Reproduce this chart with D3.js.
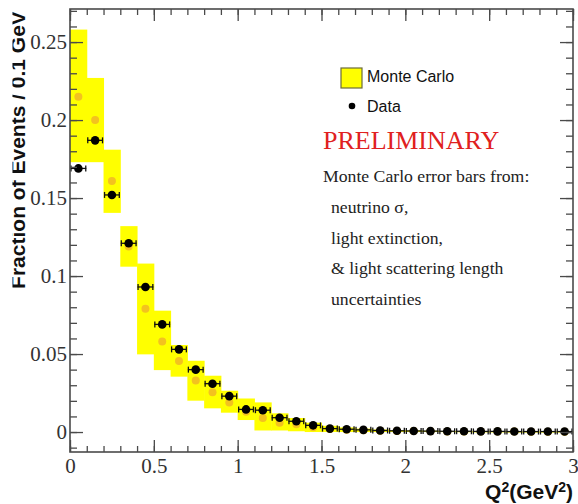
<!DOCTYPE html>
<html>
<head>
<meta charset="utf-8">
<script src="https://cdn.jsdelivr.net/npm/d3@7"></script>
<style>
  body { margin: 0; background: #fff; }
  svg { display: block; }
</style>
</head>
<body>
<svg id="chart" width="578" height="504"></svg>
<script>
// bin centres in Q^2 (GeV^2), bins are 0.1 wide
const binCenters = [0.05, 0.15, 0.25, 0.35, 0.45, 0.55, 0.65, 0.75, 0.85, 0.95,
  1.05, 1.15, 1.25, 1.35, 1.45, 1.55, 1.65, 1.75, 1.85, 1.95,
  2.05, 2.15, 2.25, 2.35, 2.45, 2.55, 2.65, 2.75, 2.85, 2.95];
const binHalfWidth = 0.05;

// data points
const dataValues = [0.169, 0.187, 0.152, 0.121, 0.093, 0.069, 0.053, 0.040, 0.031, 0.023,
  0.0145, 0.014, 0.0092, 0.0069, 0.0043, 0.0022, 0.0018, 0.0014, 0.0010, 0.0008,
  0.0007, 0.0006, 0.0005, 0.0005, 0.0004, 0.0004, 0.0003, 0.0003, 0.0003, 0.0003];

// Monte Carlo central values and error band
const mcValues = [0.215, 0.200, 0.161, 0.119, 0.079, 0.058, 0.0455, 0.033, 0.0255, 0.019,
  0.013, 0.009, 0.006, 0.005, 0.003, 0.002, 0.0015, 0.0012, 0.0009, 0.0007,
  0.0006, 0.0005, 0.0004, 0.0004, 0.0003, 0.0003, 0.0003, 0.0002, 0.0002, 0.0002];
const mcLow = [0.173, 0.173, 0.1405, 0.106, 0.0498, 0.0397, 0.0355, 0.0201, 0.0152, 0.0124,
  0.0077, 0.001, 0.001, 0.0005, 0, 0, 0, 0, 0, 0,
  0, 0, 0, 0, 0, 0, 0, 0, 0, 0];
const mcHigh = [0.258, 0.227, 0.181, 0.132, 0.108, 0.0778, 0.0558, 0.0457, 0.0361, 0.0265,
  0.0215, 0.019, 0.012, 0.009, 0.006, 0.004, 0.003, 0.0022, 0.0016, 0.0012,
  0.001, 0.0008, 0.0006, 0.0005, 0.0004, 0.0004, 0.0003, 0.0003, 0.0003, 0.0003];

// axis ticks
const xMajorTicks = [0, 0.5, 1, 1.5, 2, 2.5, 3];
const xTickLabels = ['0', '0.5', '1', '1.5', '2', '2.5', '3'];
const yMajorTicks = [0, 0.05, 0.1, 0.15, 0.2, 0.25];
const yTickLabels = ['0', '0.05', '0.1', '0.15', '0.2', '0.25'];

const noteLines = ['neutrino \u03c3,', 'light extinction,', '& light scattering length', 'uncertainties'];

const svg = d3.select('#chart');
const plot = {left: 70, right: 573, top: 9, bottom: 452};

const x = d3.scaleLinear().domain([0, 3]).range([plot.left, plot.right]);
const y = d3.scaleLinear().domain([-0.0128, 0.2712]).range([plot.bottom, plot.top]);

const serif = '"Liberation Serif", "Times New Roman", serif';
const sans = '"Liberation Sans", Arial, sans-serif';
const axisColor = '#4a4a4a';

const bins = binCenters.map((c, i) => ({
  c: c, data: dataValues[i], mc: mcValues[i], lo: mcLow[i], hi: mcHigh[i]
}));

// MC error boxes
svg.append('g').selectAll('rect')
  .data(bins)
  .join('rect')
  .attr('x', d => x(d.c - binHalfWidth))
  .attr('width', d => x(d.c + binHalfWidth) - x(d.c - binHalfWidth) + 0.5)
  .attr('y', d => y(d.hi))
  .attr('height', d => Math.max(y(d.lo) - y(d.hi), 1))
  .attr('fill', '#ffff00');

// MC central values
svg.append('g').selectAll('circle')
  .data(bins)
  .join('circle')
  .attr('cx', d => x(d.c))
  .attr('cy', d => y(d.mc))
  .attr('r', 4)
  .attr('fill', '#f3c21f');

// data error bars (bin width)
const errG = svg.append('g').attr('stroke', '#111').attr('stroke-width', 1.3);
errG.selectAll('line.h')
  .data(bins)
  .join('line').attr('class', 'h')
  .attr('x1', d => x(d.c - binHalfWidth) + 0.5)
  .attr('x2', d => x(d.c + binHalfWidth) - 0.5)
  .attr('y1', d => y(d.data))
  .attr('y2', d => y(d.data));
['l', 'r'].forEach(side => {
  errG.selectAll('line.' + side)
    .data(bins)
    .join('line').attr('class', side)
    .attr('x1', d => x(d.c + (side === 'l' ? -binHalfWidth : binHalfWidth)) + (side === 'l' ? 1 : -1))
    .attr('x2', d => x(d.c + (side === 'l' ? -binHalfWidth : binHalfWidth)) + (side === 'l' ? 1 : -1))
    .attr('y1', d => y(d.data) - 3)
    .attr('y2', d => y(d.data) + 3);
});

// data points
svg.append('g').selectAll('circle')
  .data(bins)
  .join('circle')
  .attr('cx', d => x(d.c))
  .attr('cy', d => y(d.data))
  .attr('r', 4.3)
  .attr('fill', '#000');

// axes, ticks pointing inward on all four sides
const styleAxis = g => {
  g.select('.domain').remove();
  g.selectAll('line').attr('stroke', axisColor).attr('stroke-width', 1.3);
  g.selectAll('text').attr('fill', '#333').attr('font-family', serif).attr('font-size', 21);
};

const xMinor = x.ticks(30);
const yMinor = d3.range(-1, 28).map(k => k / 100);

svg.append('g').attr('transform', `translate(0,${plot.bottom})`)
  .call(d3.axisBottom(x).tickValues(xMinor).tickSize(-6).tickFormat(''))
  .call(styleAxis);
svg.append('g').attr('transform', `translate(0,${plot.bottom})`)
  .call(d3.axisBottom(x).tickValues(xMajorTicks).tickSize(-12).tickPadding(6)
    .tickFormat((d, i) => xTickLabels[i]))
  .call(styleAxis);
svg.append('g').attr('transform', `translate(0,${plot.top})`)
  .call(d3.axisTop(x).tickValues(xMinor).tickSize(-6).tickFormat(''))
  .call(styleAxis);
svg.append('g').attr('transform', `translate(0,${plot.top})`)
  .call(d3.axisTop(x).tickValues(xMajorTicks).tickSize(-12).tickFormat(''))
  .call(styleAxis);

svg.append('g').attr('transform', `translate(${plot.left},0)`)
  .call(d3.axisLeft(y).tickValues(yMinor).tickSize(-7).tickFormat(''))
  .call(styleAxis);
svg.append('g').attr('transform', `translate(${plot.left},0)`)
  .call(d3.axisLeft(y).tickValues(yMajorTicks).tickSize(-13).tickPadding(3)
    .tickFormat((d, i) => yTickLabels[i]))
  .call(styleAxis);
svg.append('g').attr('transform', `translate(${plot.right},0)`)
  .call(d3.axisRight(y).tickValues(yMinor).tickSize(-7).tickFormat(''))
  .call(styleAxis);
svg.append('g').attr('transform', `translate(${plot.right},0)`)
  .call(d3.axisRight(y).tickValues(yMajorTicks).tickSize(-13).tickFormat(''))
  .call(styleAxis);

// frame
svg.append('rect')
  .attr('x', plot.left).attr('y', plot.top)
  .attr('width', plot.right - plot.left).attr('height', plot.bottom - plot.top)
  .attr('fill', 'none').attr('stroke', axisColor).attr('stroke-width', 1.6);

// y title, the top of the glyphs is cut off in the original
svg.append('clipPath').attr('id', 'ytitle-clip')
  .append('rect').attr('x', 12.5).attr('y', 0).attr('width', 40).attr('height', 504);
svg.append('g').attr('clip-path', 'url(#ytitle-clip)')
  .append('text')
  .attr('transform', 'translate(24.5,150) rotate(-90)')
  .attr('text-anchor', 'middle')
  .attr('font-family', sans).attr('font-weight', 'bold').attr('font-size', 21)
  .attr('fill', '#111')
  .text('Fraction of Events / 0.1 GeV');

// x title
const xt = svg.append('text')
  .attr('x', 573).attr('y', 499)
  .attr('text-anchor', 'end')
  .attr('font-family', sans).attr('font-weight', 'bold').attr('font-size', 21)
  .attr('fill', '#111');
xt.append('tspan').text('Q');
xt.append('tspan').attr('font-size', 14).attr('dy', -7).text('2');
xt.append('tspan').attr('dy', 7).text('(GeV');
xt.append('tspan').attr('font-size', 14).attr('dy', -7).text('2');
xt.append('tspan').attr('dy', 7).text(')');

// legend
svg.append('rect')
  .attr('x', 341).attr('y', 68).attr('width', 21).attr('height', 20)
  .attr('fill', '#ffff00').attr('stroke', '#6b6b3a').attr('stroke-width', 1.2);
svg.append('text').attr('x', 367).attr('y', 82)
  .attr('font-family', sans).attr('font-size', 16).attr('fill', '#111')
  .text('Monte Carlo');
svg.append('circle').attr('cx', 352).attr('cy', 106).attr('r', 3.3).attr('fill', '#000');
svg.append('text').attr('x', 367).attr('y', 112)
  .attr('font-family', sans).attr('font-size', 16).attr('fill', '#111')
  .text('Data');

svg.append('text').attr('x', 323).attr('y', 149)
  .attr('font-family', serif).attr('font-size', 26).attr('fill', '#e02020')
  .text('PRELIMINARY');

svg.append('text').attr('x', 323).attr('y', 182)
  .attr('font-family', serif).attr('font-size', 17.7).attr('fill', '#222')
  .text('Monte Carlo error bars from:');

svg.append('g').selectAll('text')
  .data(noteLines)
  .join('text')
  .attr('x', 331)
  .attr('y', (d, i) => 213 + i * 30.5)
  .attr('font-family', serif).attr('font-size', 17.7).attr('fill', '#222')
  .text(d => d);
</script>
</body>
</html>
